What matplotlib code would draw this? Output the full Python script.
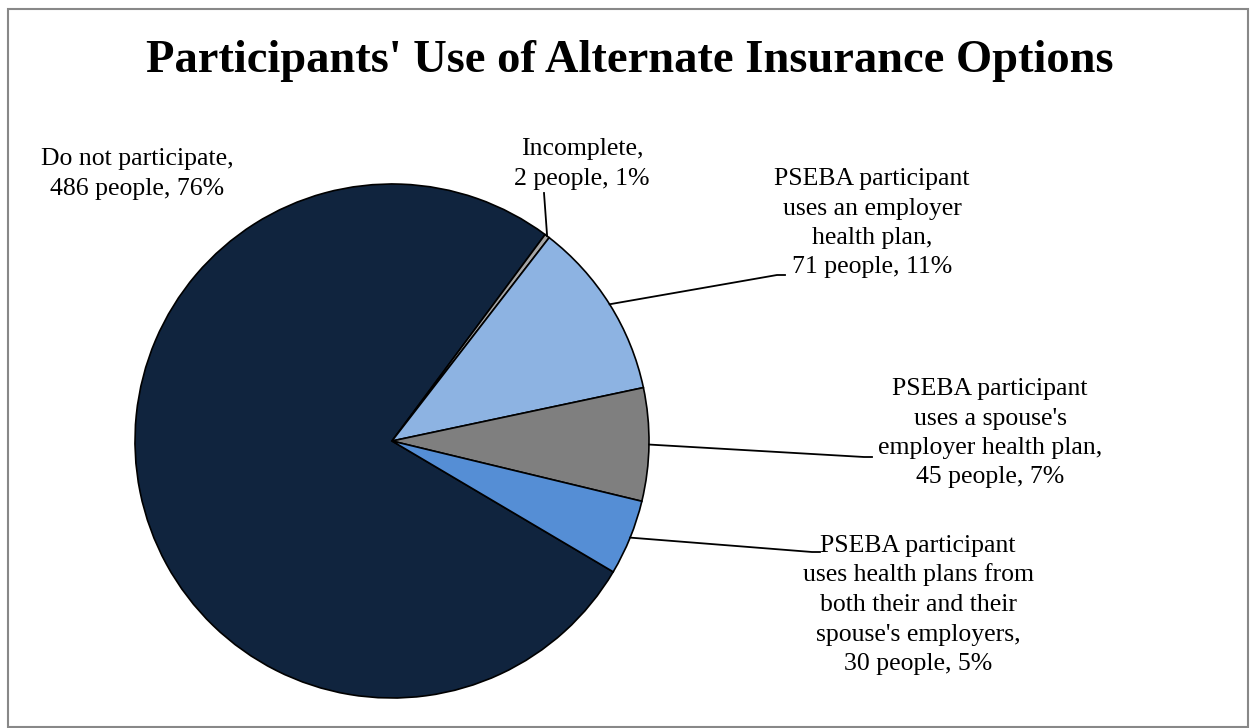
import numpy as np
import matplotlib.pyplot as plt
from matplotlib.patches import Rectangle
from matplotlib.lines import Line2D

plt.rcParams['font.family'] = ['Liberation Serif', 'DejaVu Serif']

categories = ["Do not participate", "Incomplete",
              "PSEBA participant\nuses an employer\nhealth plan",
              "PSEBA participant\nuses a spouse's\nemployer health plan",
              "PSEBA participant\nuses health plans from\nboth their and their\nspouse's employers"]
people = [486, 2, 71, 45, 30]
percents = ["76%", "1%", "11%", "7%", "5%"]
colors = ["#10243e", "#a6a6a6", "#8db3e2", "#7f7f7f", "#558ed5"]

W, H = 1250, 728
fig = plt.figure(figsize=(W / 100, H / 100), dpi=100)

def fx(x):
    return x / W

def fy(y):
    return 1 - y / H

# pie axes: centre (392, 441), radius 257 px
cx, cy, r = 392, 441, 257
ax = fig.add_axes([fx(cx - r), fy(cy + r), 2 * r / W, 2 * r / H])
wedges, _ = ax.pie(people, colors=colors, startangle=-30.6, counterclock=False,
                   radius=1, wedgeprops=dict(edgecolor='black', linewidth=1.2))
ax.set_xlim(-1, 1)
ax.set_ylim(-1, 1)
ax.set_aspect('equal')
ax.axis('off')

fig.text(fx(630), fy(72), "Participants' Use of Alternate Insurance Options",
         ha='center', va='baseline', fontsize=33.5, fontweight='bold')

# label text: (centre x, first baseline y) in pixels
label_pos = [(137, 165), (582, 155), (872, 185), (990, 395), (918, 552)]
line_step = 29.5
# leader line: bend point and end point next to the text (pixels)
bends = [None, (544, 193), (777, 275), (864, 457), (812, 552)]
ends = [None, None, (785, 275), (872, 457), (820, 552)]

for i, (w, cat) in enumerate(zip(wedges, categories)):
    lines = f"{cat},\n{people[i]} people, {percents[i]}".split("\n")
    tx, ty = label_pos[i]
    for k, ln in enumerate(lines):
        fig.text(fx(tx), fy(ty + k * line_step), ln, ha='center', va='baseline',
                 fontsize=18.5)
    if bends[i] is None:
        continue
    ang = np.deg2rad((w.theta1 + w.theta2) / 2)
    px = cx + r * np.cos(ang)
    py = cy - r * np.sin(ang)
    bx, by = bends[i]
    xs = [px, bx]
    ys = [py, by]
    if ends[i] is not None:
        xs.append(ends[i][0])
        ys.append(ends[i][1])
    fig.add_artist(Line2D([fx(v) for v in xs], [fy(v) for v in ys],
                          color='black', linewidth=1.3, transform=fig.transFigure))

fig.add_artist(Rectangle((fx(8), fy(727)), fx(1240), 718 / H, fill=False,
                         edgecolor='#888888', linewidth=1.5, transform=fig.transFigure))

fig.savefig("out.png", dpi=100)
